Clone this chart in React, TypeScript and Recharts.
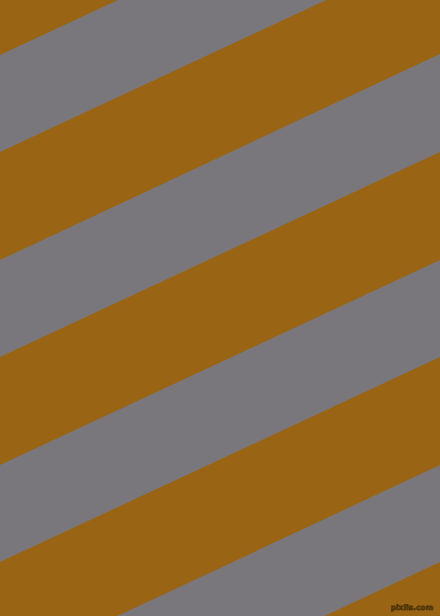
import { AreaChart, Area, XAxis, YAxis, Customized } from "recharts"

// stripe edges sampled at the left (x=0) and right (x=440) borders, in pixels from the top
const edgeX = [0, 440]
const grayLeftTop = [55, 260, 465, 671]
const grayLeftBottom = [152, 357, 562, 768]
const grayRightTop = [-150, 54, 260, 465]
const grayRightBottom = [-53, 152, 357, 562]

const BROWN = "#996515"
const GRAY = "#7a777c"

const rows = edgeX.map((x, i) => {
  const row: Record<string, any> = { x }
  grayLeftTop.forEach((_, k) => {
    row["s" + k] =
      i === 0
        ? [grayLeftTop[k], grayLeftBottom[k]]
        : [grayRightTop[k], grayRightBottom[k]]
  })
  return row
})

function Watermark() {
  return (
    <text
      x={412}
      y={610}
      textAnchor="middle"
      fontFamily="DejaVu Sans"
      fontSize={7.5}
      fontWeight="bold"
      fill="#6e4a0e"
      stroke="#3f2a05"
      strokeWidth={0.6}
    >
      pixlis.com
    </text>
  )
}

export default function App() {
  return (
    <div style={{ position: "fixed", left: 0, top: 0, width: 440, height: 616, background: BROWN }}>
      <AreaChart width={440} height={616} data={rows} margin={{ top: 0, right: 0, bottom: 0, left: 0 }}>
        <XAxis type="number" dataKey="x" domain={[0, 440]} hide allowDataOverflow />
        <YAxis type="number" domain={[0, 616]} reversed hide allowDataOverflow />
        {grayLeftTop.map((_, k) => (
          <Area
            key={k}
            type="linear"
            dataKey={"s" + k}
            stroke="none"
            fill={GRAY}
            fillOpacity={1}
            dot={false}
            activeDot={false}
            isAnimationActive={false}
          />
        ))}
        <Customized component={Watermark} />
      </AreaChart>
    </div>
  )
}
